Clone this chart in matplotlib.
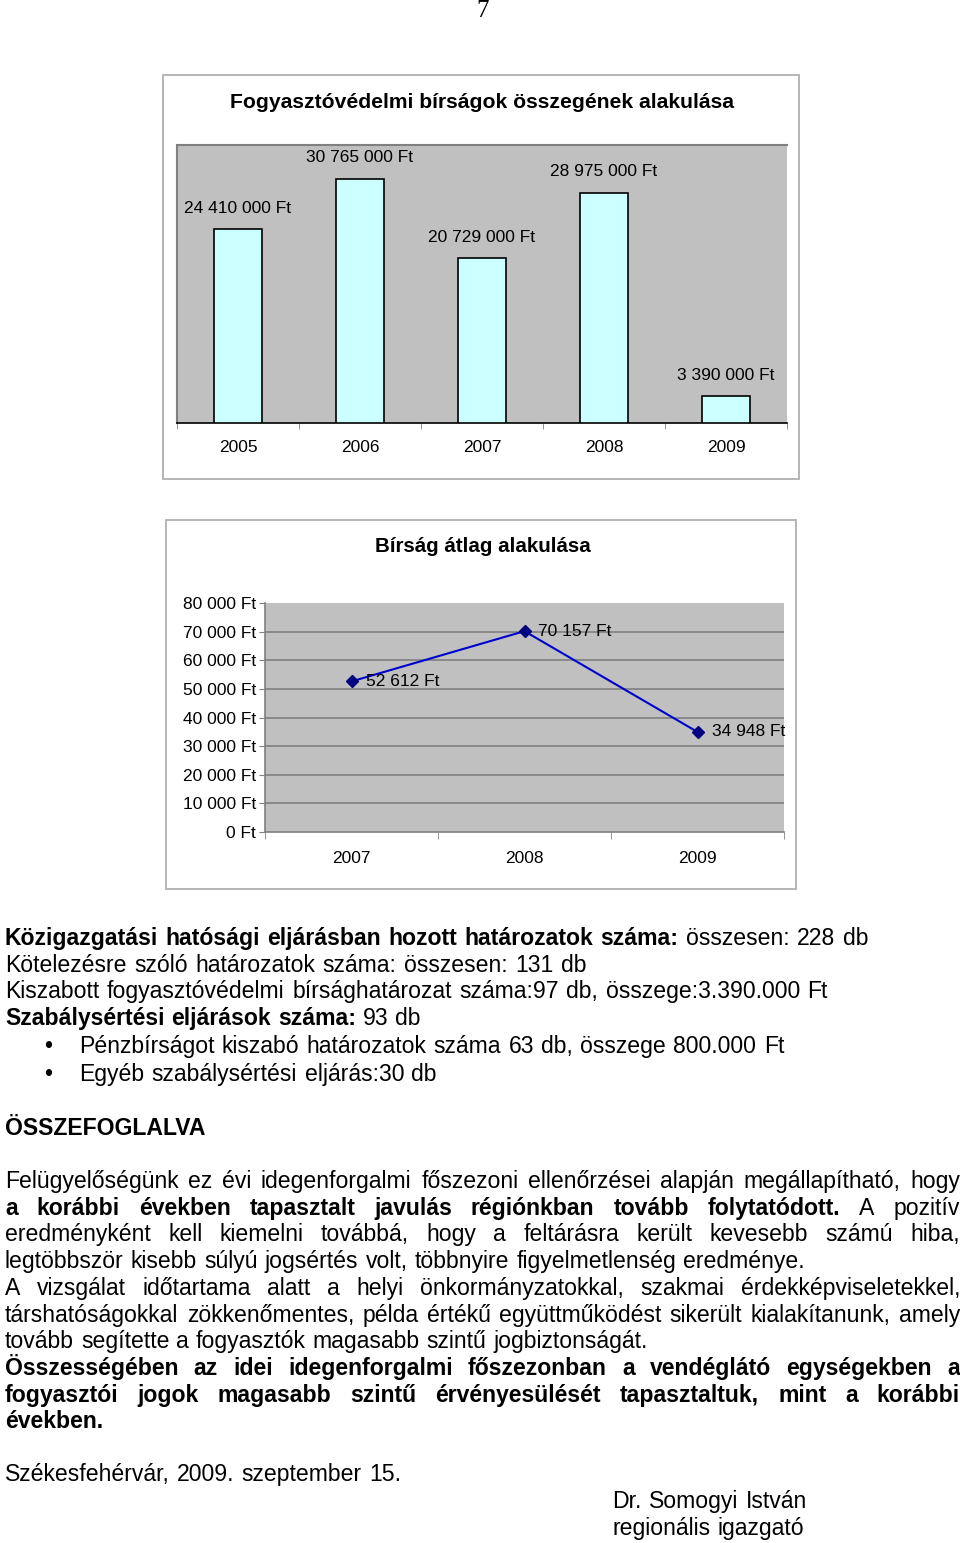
import matplotlib
matplotlib.use('Agg')
import matplotlib.pyplot as plt
from matplotlib.patches import Rectangle

plt.rcParams['font.family'] = ['Liberation Sans', 'DejaVu Sans']

# ---------------- data ----------------
bar_years = ['2005', '2006', '2007', '2008', '2009']
bar_totals = [24410000, 30765000, 20729000, 28975000, 3390000]
avg_years = ['2007', '2008', '2009']
avg_values = [52612, 70157, 34948]
avg_ticks = [0, 10000, 20000, 30000, 40000, 50000, 60000, 70000, 80000]

title_top = 'Fogyasztóvédelmi bírságok összegének alakulása'
title_bottom = 'Bírság átlag alakulása'


def ft(v):
    return f'{v:,}'.replace(',', ' ') + ' Ft'


W, H = 960, 1543
fig = plt.figure(figsize=(W / 100, H / 100), dpi=100)
fig.patch.set_facecolor('white')
renderer = fig.canvas.get_renderer()


def fx(x):
    return x / W


def fy(y):
    return 1 - y / H


def rect(x0, y0, x1, y1):
    return [x0 / W, 1 - y1 / H, (x1 - x0) / W, (y1 - y0) / H]


def box(x0, y0, x1, y1):
    fig.add_artist(Rectangle((fx(x0), fy(y1)), (x1 - x0) / W, (y1 - y0) / H,
                             transform=fig.transFigure, fill=False,
                             ec='#B0B0B0', lw=1.3))


# page number
fig.text(fx(483), fy(17), '7', ha='center', va='baseline', fontsize=18,
         family=['Liberation Serif', 'DejaVu Serif'])

# ---------------- top chart ----------------
box(163, 75, 799, 479)
fig.text(fx(482), fy(103), title_top, ha='center', va='center',
         fontsize=15.2, weight='bold')
ax1 = fig.add_axes(rect(177, 145, 787, 423))
ax1.set_facecolor('#C0C0C0')
xs = list(range(len(bar_years)))
ax1.bar(xs, bar_totals, width=0.4, color='#CCFFFF', edgecolor='black', lw=1.2, zorder=3)
for x, v in zip(xs, bar_totals):
    ax1.annotate(ft(v), (x, v), xytext=(0, 21), textcoords='offset pixels',
                 ha='center', va='center', fontsize=12.5)
ax1.set_xlim(-0.5, len(bar_years) - 0.5)
ax1.set_ylim(0, 35000000)
ax1.set_yticks([])
ax1.set_xticks(xs)
ax1.set_xticklabels(bar_years, fontsize=12.5)
ax1.set_xticks([i - 0.5 for i in range(len(bar_years) + 1)], minor=True)
ax1.tick_params(axis='x', which='major', length=0, pad=12.5)
ax1.tick_params(axis='x', which='minor', length=4, color='#808080', direction='out')
for s in ['top', 'left']:
    ax1.spines[s].set_color('#808080')
    ax1.spines[s].set_linewidth(1.5)
ax1.spines['right'].set_visible(False)
ax1.spines['bottom'].set_color('black')
ax1.spines['bottom'].set_linewidth(1.2)

# ---------------- bottom chart ----------------
box(166, 520, 796, 889)
fig.text(fx(483), fy(547), title_bottom, ha='center', va='center',
         fontsize=14.8, weight='bold')
ax2 = fig.add_axes(rect(265, 603, 784, 832))
ax2.set_facecolor('#C0C0C0')
xs2 = list(range(len(avg_years)))
for t in avg_ticks[1:-1]:
    ax2.axhline(t, color='#808080', lw=1.2, zorder=1)
ax2.plot(xs2, avg_values, color='#0000CC', lw=1.5, marker='D', markersize=6,
         markerfacecolor='#000080', markeredgecolor='#000080', zorder=3, clip_on=False)
for x, v in zip(xs2, avg_values):
    ax2.annotate(ft(v), (x, v), xytext=(14, 0), textcoords='offset pixels',
                 ha='left', va='center', fontsize=12.5, annotation_clip=False)
ax2.set_xlim(-0.5, len(avg_years) - 0.5)
ax2.set_ylim(avg_ticks[0], avg_ticks[-1])
ax2.set_yticks(avg_ticks)
ax2.set_yticklabels([ft(t) for t in avg_ticks], fontsize=12.5)
ax2.tick_params(axis='y', length=4, color='#808080', pad=2.5)
ax2.set_xticks(xs2)
ax2.set_xticklabels(avg_years, fontsize=12.5)
ax2.set_xticks([i - 0.5 for i in range(len(avg_years) + 1)], minor=True)
ax2.tick_params(axis='x', which='major', length=0, pad=14)
ax2.tick_params(axis='x', which='minor', length=5, color='#808080', direction='out')
for s in ['top', 'right']:
    ax2.spines[s].set_visible(False)
for s in ['left', 'bottom']:
    ax2.spines[s].set_color('#808080')
    ax2.spines[s].set_linewidth(1.2)

# ---------------- body text ----------------
BODY = 16.6


def width_of(word, weight, size):
    t = fig.text(0, 0, word, fontsize=size, weight=weight)
    w = t.get_window_extent(renderer).width
    t.remove()
    return w


def draw_line(yc, segs, x0, x1=None, size=BODY):
    words = []
    for text, wt in segs:
        for w in text.split():
            words.append((w, wt))
    widths = [width_of(w, wt, size) for w, wt in words]
    sp = width_of('a a', 'normal', size) - width_of('aa', 'normal', size)
    gap = sp
    if x1 is not None and len(words) > 1:
        gap = (x1 - x0 - sum(widths)) / (len(words) - 1)
    base = yc + 0.33 * size * 100 / 72
    x = x0
    for (w, wt), wd in zip(words, widths):
        fig.text(fx(x), fy(base), w, fontsize=size, weight=wt, ha='left', va='baseline')
        x += wd + gap


B, R = 'bold', 'normal'
lines = [
    (937, [('Közigazgatási hatósági eljárásban hozott határozatok száma:', B), ('összesen: 228 db', R)], 5, 868),
    (964, [('Kötelezésre szóló határozatok száma: összesen: 131 db', R)], 5, 586),
    (990, [('Kiszabott fogyasztóvédelmi bírsághatározat száma:97 db, összege:3.390.000 Ft', R)], 5, 828),
    (1017, [('Szabálysértési eljárások száma:', B), ('93 db', R)], 5, 421),
    (1045, [('Pénzbírságot kiszabó határozatok száma 63 db, összege 800.000 Ft', R)], 79, 784),
    (1073, [('Egyéb szabálysértési eljárás:30 db', R)], 79, 437),
    (1127, [('ÖSSZEFOGLALVA', B)], 5, None),
    (1180, [('Felügyelőségünk ez évi idegenforgalmi főszezoni ellenőrzései alapján megállapítható, hogy', R)], 5, 960),
    (1207, [('a korábbi években tapasztalt javulás régiónkban tovább folytatódott.', B), ('A pozitív', R)], 5, 960),
    (1233, [('eredményként kell kiemelni továbbá, hogy a feltárásra került kevesebb számú hiba,', R)], 5, 960),
    (1260, [('legtöbbször kisebb súlyú jogsértés volt, többnyire figyelmetlenség eredménye.', R)], 5, 805),
    (1287, [('A vizsgálat időtartama alatt a helyi önkormányzatokkal, szakmai érdekképviseletekkel,', R)], 5, 960),
    (1314, [('társhatóságokkal zökkenőmentes, példa értékű együttműködést sikerült kialakítanunk, amely', R)], 5, 960),
    (1340, [('tovább segítette a fogyasztók magasabb szintű jogbiztonságát.', R)], 5, 648),
    (1367, [('Összességében az idei idegenforgalmi főszezonban a vendéglátó egységekben a', B)], 5, 960),
    (1394, [('fogyasztói jogok magasabb szintű érvényesülését tapasztaltuk, mint a korábbi', B)], 5, 960),
    (1420, [('években.', B)], 5, None),
    (1473, [('Székesfehérvár, 2009. szeptember 15.', R)], 5, 401),
    (1500, [('Dr. Somogyi István', R)], 612, 807),
    (1527, [('regionális igazgató', R)], 612, 804),
]
for yc, segs, x0, x1 in lines:
    draw_line(yc, segs, x0, x1)

for yb in (1045, 1073):
    fig.text(fx(48), fy(yb + 0.33 * BODY * 100 / 72), '•', fontsize=BODY,
             ha='center', va='baseline')

fig.savefig('out.png', dpi=100, facecolor='white')
